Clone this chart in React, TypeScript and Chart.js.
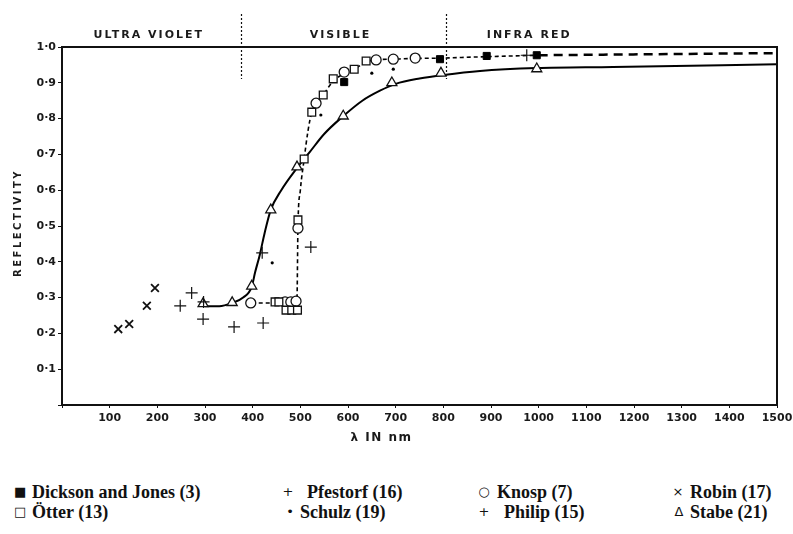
import React, { useEffect, useRef } from "react";
import { Chart, registerables } from "chart.js";

Chart.register(...registerables);

// ---- data (wavelength in nm, reflectivity) ----
const dicksonX = [592, 793, 891, 996];
const dicksonY = [0.902, 0.966, 0.975, 0.977];

const otterX = [447, 455, 470, 482, 494, 495, 508, 524, 548, 569, 613, 638];
const otterY = [0.288, 0.288, 0.265, 0.265, 0.265, 0.517, 0.687, 0.818, 0.866, 0.911, 0.938, 0.961];

const knospX = [396, 468, 480, 491, 495, 533, 592, 659, 695, 741];
const knospY = [0.285, 0.288, 0.288, 0.29, 0.494, 0.843, 0.93, 0.964, 0.966, 0.969];

const schulzX = [441, 543, 650, 695];
const schulzY = [0.397, 0.81, 0.927, 0.938];

const pfestorfX = [297, 420, 522, 975];
const pfestorfY = [0.288, 0.425, 0.441, 0.977];

const philipX = [248, 272, 296, 361, 422];
const philipY = [0.277, 0.313, 0.24, 0.218, 0.229];

const robinX = [118, 141, 178, 195];
const robinY = [0.212, 0.226, 0.277, 0.327];

const stabeX = [296, 357, 398, 438, 493, 590, 692, 795, 996];
const stabeY = [0.283, 0.286, 0.332, 0.545, 0.665, 0.807, 0.9, 0.927, 0.939];

// fitted curves drawn through the data
const solidX = [300, 330, 357, 380, 398, 405, 415, 425, 438, 460, 493, 520, 550, 590, 630, 667, 700, 750, 801, 877, 996, 1156, 1500];
const solidY = [0.276, 0.276, 0.285, 0.3, 0.33, 0.37, 0.42, 0.48, 0.545, 0.6, 0.662, 0.707, 0.757, 0.807, 0.85, 0.878, 0.897, 0.912, 0.922, 0.933, 0.941, 0.944, 0.952];

const dashX = [398, 440, 490, 493, 495, 500, 508, 516, 524, 535, 548, 569, 592, 613, 638, 659, 695, 741, 793, 891, 1000];
const dashY = [0.285, 0.285, 0.285, 0.3, 0.5, 0.6, 0.687, 0.765, 0.818, 0.843, 0.866, 0.905, 0.925, 0.938, 0.958, 0.964, 0.966, 0.968, 0.969, 0.973, 0.977];

const dashFarX = [1000, 1250, 1500];
const dashFarY = [0.977, 0.98, 0.983];

const regionLabels = ["ULTRA VIOLET", "VISIBLE", "INFRA RED"];
const regionCenters = [180, 582, 978];
const regionBounds = [375, 805];

const xTickStep = 100;
const yTickStep = 0.1;

const legendRows = [
  [
    { sym: "■", text: "Dickson and Jones (3)" },
    { sym: "+", text: "Pfestorf (16)" },
    { sym: "○", text: "Knosp (7)" },
    { sym: "×", text: "Robin (17)" },
  ],
  [
    { sym: "□", text: "Ötter (13)" },
    { sym: "•", text: "Schulz (19)" },
    { sym: "+", text: "Philip (15)" },
    { sym: "Δ", text: "Stabe (21)" },
  ],
];

const pts = (xs: number[], ys: number[]) => xs.map((x, i) => ({ x, y: ys[i] }));

const decor = {
  id: "decor",
  afterDraw(chart: any) {
    const { ctx, chartArea: a, scales } = chart;
    const xs = scales.x;
    ctx.save();
    ctx.strokeStyle = "#111";
    ctx.lineWidth = 2;
    ctx.setLineDash([]);
    ctx.beginPath();
    ctx.moveTo(a.left, a.top);
    ctx.lineTo(a.right, a.top);
    ctx.lineTo(a.right, a.bottom);
    ctx.stroke();

    ctx.lineWidth = 1.2;
    ctx.setLineDash([2, 2]);
    ctx.beginPath();
    for (const b of regionBounds) {
      const px = Math.round(xs.getPixelForValue(b)) + 0.5;
      ctx.moveTo(px, 14);
      ctx.lineTo(px, 79);
    }
    ctx.stroke();
    ctx.setLineDash([]);

    ctx.fillStyle = "#1a1a1a";
    ctx.textAlign = "center";
    ctx.textBaseline = "middle";
    ctx.font = 'bold 11px "DejaVu Sans"';
    (ctx as any).letterSpacing = "2px";
    regionLabels.forEach((t, i) => {
      ctx.fillText(t, xs.getPixelForValue(regionCenters[i]) + 1, 35);
    });

    // y title
    ctx.save();
    ctx.translate(18, (a.top + a.bottom) / 2 - 3);
    ctx.rotate(-Math.PI / 2);
    ctx.font = 'bold 10px "DejaVu Sans"';
    (ctx as any).letterSpacing = "2.5px";
    ctx.fillText("REFLECTIVITY", 0, 0);
    ctx.restore();

    // x title
    ctx.font = 'bold 12px "DejaVu Sans"';
    (ctx as any).letterSpacing = "1.5px";
    ctx.fillText("λ IN nm", (a.left + a.right) / 2 - 38, 438);
    (ctx as any).letterSpacing = "0px";
    ctx.restore();
  },
};

export default function App() {
  const ref = useRef<HTMLCanvasElement | null>(null);

  useEffect(() => {
    if (!ref.current) return;
    const hollow = { backgroundColor: "#fff", borderColor: "#111", borderWidth: 1.3 };
    const chart = new Chart(ref.current, {
      type: "scatter",
      data: {
        datasets: [
          { label: "Dickson and Jones (3)", data: pts(dicksonX, dicksonY), pointStyle: "rect", pointRadius: 5, backgroundColor: "#000", borderColor: "#000", borderWidth: 1, order: 1 },
          { label: "Ötter (13)", data: pts(otterX, otterY), pointStyle: "rect", pointRadius: 5.5, ...hollow, order: 1 },
          { label: "Knosp (7)", data: pts(knospX, knospY), pointStyle: "circle", pointRadius: 5, ...hollow, order: 1 },
          { label: "Schulz (19)", data: pts(schulzX, schulzY), pointStyle: "circle", pointRadius: 1.6, backgroundColor: "#000", borderColor: "#000", borderWidth: 0, order: 1 },
          { label: "Pfestorf (16)", data: pts(pfestorfX, pfestorfY), pointStyle: "cross", pointRadius: 6, borderColor: "#111", borderWidth: 1.2, order: 1 },
          { label: "Philip (15)", data: pts(philipX, philipY), pointStyle: "cross", pointRadius: 6, borderColor: "#111", borderWidth: 1.2, order: 1 },
          { label: "Robin (17)", data: pts(robinX, robinY), pointStyle: "crossRot", pointRadius: 5.5, borderColor: "#111", borderWidth: 1.8, order: 1 },
          { label: "Stabe (21)", data: pts(stabeX, stabeY), pointStyle: "triangle", pointRadius: 5.8, ...hollow, order: 1 },
          { label: "fit solid", data: pts(solidX, solidY), showLine: true, pointRadius: 0, borderColor: "#000", borderWidth: 2, cubicInterpolationMode: "monotone", order: 5 },
          { label: "fit dashed", data: pts(dashX, dashY), showLine: true, pointRadius: 0, borderColor: "#000", borderWidth: 1.6, borderDash: [4, 3], cubicInterpolationMode: "monotone", order: 5 },
          { label: "fit dashed far", data: pts(dashFarX, dashFarY), showLine: true, pointRadius: 0, borderColor: "#000", borderWidth: 2.5, borderDash: [9, 6], cubicInterpolationMode: "monotone", order: 5 },
        ] as any,
      },
      options: {
        responsive: false,
        devicePixelRatio: 1,
        animation: false,
        events: [],
        layout: { padding: { top: 47, right: 16, left: 0, bottom: 25 } },
        plugins: { legend: { display: false }, tooltip: { enabled: false } },
        scales: {
          x: {
            type: "linear",
            min: 0,
            max: 1500,
            afterFit: (s: any) => { s.height = 20; s.paddingRight = 0; s.paddingLeft = 0; },
            border: { color: "#111", width: 2 },
            grid: { drawOnChartArea: false, drawTicks: true, tickLength: 3, color: "#111" },
            ticks: {
              stepSize: xTickStep,
              padding: 4,
              color: "#1a1a1a",
              font: { family: "DejaVu Sans", weight: "bold", size: 11 },
              maxRotation: 0,
              autoSkip: false,
              callback: (v: any) => (v === 0 ? "" : String(v)),
            },
          },
          y: {
            min: 0,
            max: 1,
            afterFit: (s: any) => { s.width = 62; s.paddingTop = 0; s.paddingBottom = 0; },
            border: { color: "#111", width: 2 },
            grid: { drawOnChartArea: false, drawTicks: true, tickLength: 4, color: "#111" },
            ticks: {
              stepSize: yTickStep,
              padding: 2,
              color: "#1a1a1a",
              font: { family: "DejaVu Sans", weight: "bold", size: 11 },
              callback: (v: any) => (Math.abs(v) < 1e-9 ? "" : Number(v).toFixed(1).replace(".", "·")),
            },
          },
        },
      },
      plugins: [decor],
    });
    return () => chart.destroy();
  }, []);

  const colX = [[20, 32], [288, 307], [484, 497], [678, 690]];
  const colX2 = [[20, 32], [290, 300], [484, 504], [679, 690]];
  const rowY = [492, 512];

  return (
    <div style={{ position: "absolute", left: 0, top: 0, width: 793, height: 534, background: "#fff" }}>
      <canvas ref={ref} width={793} height={450} style={{ position: "absolute", left: 0, top: 0 }} />
      {legendRows.map((row, r) =>
        row.map((item, c) => {
          const cx = r === 0 ? colX[c] : colX2[c];
          return (
            <React.Fragment key={r + "-" + c}>
              <span style={{ position: "absolute", left: cx[0] - 6, top: rowY[r] - 10, width: 12, textAlign: "center", lineHeight: "20px", fontFamily: "DejaVu Sans", fontSize: 13, color: "#111" }}>{item.sym}</span>
              <span style={{ position: "absolute", left: cx[1], top: rowY[r] - 10, lineHeight: "20px", fontFamily: "Liberation Serif", fontWeight: "bold", fontSize: 18, color: "#111", whiteSpace: "nowrap" }}>{item.text}</span>
            </React.Fragment>
          );
        })
      )}
    </div>
  );
}
